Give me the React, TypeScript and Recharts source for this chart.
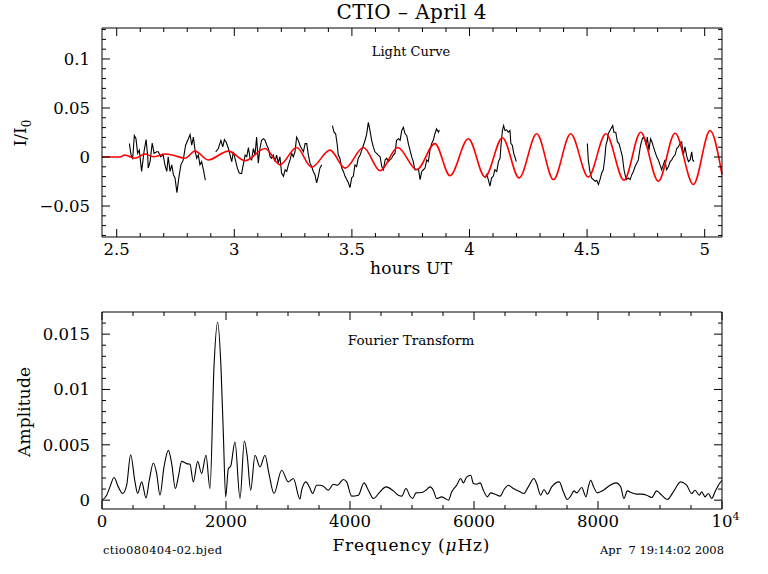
import React from "react";
import { LineChart, Line, XAxis, YAxis } from "recharts";

const FONT = "'DejaVu Serif', 'Liberation Serif', serif";

// light curve pieces: [hours UT, I/I0 x 1000]
const seg1 = [[2.554,13.7],[2.561,2],[2.568,-1.3],[2.575,22],[2.582,18.7],[2.589,3.7],[2.596,7],[2.606,-14.7],[2.616,5.3],[2.625,17.7],[2.632,0.3],[2.634,-11.3],[2.642,-4.7],[2.651,14.3],[2.659,3.7],[2.670,5.3],[2.677,5.3],[2.687,0.3],[2.698,2],[2.705,-8],[2.713,-14.7],[2.719,0.3],[2.727,-14.7],[2.734,-8],[2.741,-18],[2.748,-21.3],[2.756,-36.3],[2.765,-19.7],[2.773,-8],[2.783,-3],[2.793,12],[2.802,17],[2.812,23],[2.819,12],[2.826,20.3],[2.833,7],[2.840,-1.3],[2.847,2],[2.854,-8],[2.861,-4.7],[2.870,-14.7],[2.877,-23.7]];
const seg2 = [[2.921,5.3],[2.932,8.7],[2.943,17],[2.951,10.3],[2.958,17.7],[2.965,15.3],[2.975,8.7],[2.982,2],[2.989,-4.7],[2.996,5.3],[3.003,-1.3],[3.013,-11.3],[3.021,-16.3],[3.031,-17],[3.038,-8],[3.046,2],[3.053,0.3],[3.060,9.7],[3.067,-1.3],[3.074,-3],[3.081,8.7],[3.088,2],[3.095,20.3],[3.102,-6.3],[3.109,8.7],[3.116,17],[3.124,18.7],[3.131,17],[3.138,12],[3.145,8.7],[3.152,0.3],[3.159,-1.3],[3.166,2],[3.173,-4.7],[3.180,2],[3.187,-6.3],[3.194,0.3],[3.201,-16.3],[3.209,-19.7],[3.216,-13],[3.223,-14.7],[3.230,-8],[3.237,-3],[3.244,3.7],[3.251,0.3],[3.258,5.3],[3.265,20.3],[3.272,17],[3.279,12],[3.286,8.7],[3.294,5.3],[3.301,13.7],[3.308,13.7],[3.315,2],[3.322,-6.3],[3.329,-9.7],[3.336,-14.7],[3.343,-18],[3.350,-26.3],[3.357,-19.7],[3.364,-11.3],[3.372,-8]];
const seg3 = [[3.417,32],[3.424,25.3],[3.431,23.7],[3.438,12],[3.442,2],[3.449,-1.3],[3.457,-11.3],[3.464,-14.7],[3.471,-19.7],[3.478,-23],[3.485,-26.3],[3.492,-31.3],[3.499,-21.3],[3.506,-19.7],[3.513,-8],[3.520,-9.7],[3.527,-1.3],[3.535,2],[3.542,7],[3.549,12],[3.556,17],[3.563,23.7],[3.570,35.3],[3.577,27],[3.584,17],[3.591,10.3],[3.598,5.3],[3.605,3.7],[3.612,2],[3.620,0.3],[3.627,-9.7],[3.634,-13],[3.641,-3],[3.648,-1.3],[3.655,-4.7],[3.662,-3],[3.669,-1.3],[3.676,2],[3.683,3.7],[3.690,17],[3.698,18.7],[3.705,17],[3.712,27],[3.719,30.3],[3.726,23.7],[3.733,22],[3.740,13.7],[3.747,7],[3.754,0.3],[3.761,-4.7],[3.768,-13],[3.783,-12.3],[3.790,-23],[3.797,-14.7],[3.804,-13],[3.811,-11.3],[3.818,-3],[3.825,-4.7],[3.832,7],[3.839,13.7],[3.846,17],[3.853,23.7],[3.860,28.7],[3.868,25.3],[3.872,27.7]];
const seg4 = [[4.066,-21.3],[4.073,-18],[4.080,-23],[4.087,-29.7],[4.094,-21.3],[4.101,-19.7],[4.108,-13],[4.116,-14.7],[4.123,-4.7],[4.130,-1.3],[4.134,12],[4.140,27],[4.145,32],[4.151,27],[4.158,27.7],[4.165,25.3],[4.172,27],[4.176,13.7],[4.182,12],[4.188,3.7],[4.193,0.3],[4.199,-4.7]];
const seg5 = [[4.501,13.7],[4.505,-3],[4.512,-14.7],[4.519,-21.3],[4.527,-23],[4.534,-24.7],[4.541,-23.7],[4.548,-28],[4.555,-23],[4.562,-16.3],[4.569,-13],[4.576,0.3],[4.580,12],[4.586,17],[4.590,23.7],[4.597,27],[4.605,30.3],[4.609,32],[4.614,25.3],[4.622,25.3],[4.629,15.3],[4.636,13.7],[4.643,7],[4.650,0.3],[4.657,-13],[4.663,-19.7],[4.668,-23],[4.675,-21.3],[4.683,-23],[4.690,-18],[4.697,-14.7],[4.704,-9.7],[4.711,-6.3],[4.718,-3],[4.725,8.7],[4.729,13.7],[4.735,18.7],[4.739,20.3],[4.746,17],[4.751,12],[4.756,20.3],[4.763,7],[4.770,18.7],[4.776,15.3],[4.782,10.3],[4.789,5.3],[4.796,0.3],[4.803,-3],[4.810,-8],[4.817,-13],[4.824,-8],[4.831,-3],[4.838,-13],[4.846,-9.7],[4.853,-4.7],[4.860,-3],[4.867,0.3],[4.874,2],[4.881,8.7],[4.888,10.3],[4.895,13.7],[4.902,15.3],[4.909,2],[4.916,10.3],[4.924,0.3],[4.931,-4.7],[4.938,-3],[4.945,5.3],[4.949,-3],[4.955,-4.7]];

// fitted model, turning points
const model = [[2.4375,0],[2.514,0],[2.535,2],[2.578,-1.3],[2.620,3],[2.656,0.3],[2.705,3],[2.748,1.3],[2.790,-1.3],[2.833,6],[2.889,-3],[2.975,6],[3.046,-3.7],[3.131,8.7],[3.194,-8],[3.265,9.7],[3.329,-10.3],[3.407,7],[3.471,-11.3],[3.549,9.7],[3.620,-14],[3.695,9.7],[3.776,-13],[3.853,13.7],[3.917,-19],[3.995,18.7],[4.066,-20.3],[4.140,19.7],[4.211,-21.3],[4.286,23.7],[4.357,-23],[4.430,23.7],[4.505,-20.3],[4.580,23.7],[4.657,-23.7],[4.728,25.3],[4.803,-24.7],[4.874,24.3],[4.952,-28],[5.023,27],[5.0736,-18]];

// amplitude spectrum: [frequency µHz, amplitude x 1000]
const fourier = [[0,0],[75,0.45],[129,1.2],[194,2.04],[263,1.2],[333,0.6],[398,1.35],[462,4.1],[532,1.65],[575,0.6],[640,1.65],[710,0.2],[763,1.8],[828,3.36],[882,2.4],[935,0.45],[1000,3],[1070,4.5],[1124,3.3],[1183,1.05],[1231,2.1],[1285,3.5],[1366,3.3],[1419,3.24],[1473,1.65],[1543,3.5],[1607,2.4],[1677,4.05],[1742,1.05],[1806,12],[1865,16.07],[1919,12],[1957,6],[1995,0.3],[2038,2.85],[2075,3.06],[2145,5.25],[2226,0.15],[2296,5.35],[2344,3.9],[2398,0.9],[2468,4.05],[2548,3],[2629,4.05],[2693,2.4],[2774,0.6],[2898,2.7],[3005,1.65],[3086,1.95],[3193,0.1],[3220,0.9],[3290,1.65],[3344,1.2],[3398,0.6],[3462,1.35],[3516,1.35],[3570,1.26],[3651,0.9],[3731,1.44],[3796,1.35],[3893,1.86],[3946,1.65],[4027,0.36],[4135,0.45],[4226,1.56],[4296,0.9],[4377,0.15],[4484,0.75],[4581,1.2],[4699,0.84],[4780,0.45],[4834,0.36],[4904,1.05],[4968,0.36],[5011,0.15],[5065,0.66],[5156,0.69],[5226,0.9],[5291,1.2],[5344,0.9],[5398,0.15],[5479,0.3],[5533,0.15],[5587,0],[5641,0.75],[5721,1.35],[5786,1.95],[5829,1.56],[5883,2.1],[5947,2.25],[5990,1.5],[6044,1.44],[6098,1.56],[6151,0.9],[6216,0.3],[6270,0.66],[6340,0.54],[6420,0.36],[6485,0.96],[6554,1.35],[6635,1.05],[6742,0.75],[6806,0.6],[6876,1.2],[6968,1.95],[7011,1.5],[7075,0.45],[7129,0.96],[7183,0.54],[7253,1.2],[7376,1.65],[7441,0.75],[7505,0.06],[7559,0.36],[7613,0.84],[7656,0.66],[7737,1.14],[7807,0.3],[7844,1.2],[7882,1.8],[7925,1.26],[7989,0.66],[8086,0.9],[8194,1.35],[8290,1.56],[8366,1.2],[8419,0.15],[8473,0.84],[8543,0.66],[8624,0.54],[8704,0.54],[8785,0.45],[8866,0.24],[8946,0.84],[9027,0.45],[9118,0.06],[9215,0.75],[9333,1.65],[9430,1.35],[9511,0.6],[9565,0.9],[9635,0.45],[9672,0.75],[9726,0.3],[9780,0.6],[9834,0.15],[9888,0.75],[9942,1.35],[10000,1.8]];

const hourTicks = [2.5, 3, 3.5, 4, 4.5, 5];
const hourLabels = ["2.5", "3", "3.5", "4", "4.5", "5"];
const fluxTicks = [-0.05, 0, 0.05, 0.1];
const fluxLabels = ["\u22120.05", "0", "0.05", "0.1"];
const freqTicks = [0, 2000, 4000, 6000, 8000, 10000];
const freqLabels = ["0", "2000", "4000", "6000", "8000", "10^4"];
const ampTicks = [0, 0.005, 0.01, 0.015];
const ampLabels = ["0", "0.005", "0.01", "0.015"];

const hourDomain = [2.4375, 5.0736];
const fluxDomain = [-0.0816, 0.1316];
const freqDomain = [0, 10000];
const ampDomain = [-0.0008, 0.017];

// all tick positions (minor + major)
const steps = (lo: number, hi: number, step: number) => {
  const out: number[] = [];
  for (let i = 0; lo + i * step <= hi + 1e-9; i++) out.push(+(lo + i * step).toFixed(6));
  return out;
};
const hourMinor = steps(2.5, 5.0, 0.1);
const fluxMinor = steps(-0.08, 0.13, 0.01);
const freqMinor = steps(0, 10000, 500);
const ampMinor = steps(0, 0.016, 0.001);

const toLc = (s: number[][]) => s.map(([t, f]) => ({ t, f: f / 1000 }));
const toFt = (s: number[][]) => s.map(([nu, a]) => ({ nu, a: a / 1000 }));

const segments = [seg1, seg2, seg3, seg4, seg5].map(toLc);
const modelPts = toLc(model);
const ftPts = toFt(fourier);

const TICK_FS = 16.5;

type Side = "bottom" | "top" | "left" | "right";

const tickLabel = (side: Side, x: number, y: number, label: string) => {
  if (side === "left") {
    return (
      <text x={x - 12} y={y + 6} textAnchor="end" fontSize={TICK_FS} fontFamily={FONT} fill="#000">
        {label}
      </text>
    );
  }
  if (label.includes("^")) {
    const [base, exp] = label.split("^");
    return (
      <text x={x - 10.5} y={y + 18} textAnchor="start" fontSize={TICK_FS} fontFamily={FONT} fill="#000">
        {base}
        <tspan dy={-7} fontSize={11}>{exp}</tspan>
      </text>
    );
  }
  return (
    <text x={x} y={y + 18} textAnchor="middle" fontSize={TICK_FS} fontFamily={FONT} fill="#000">
      {label}
    </text>
  );
};

// inward SM-style tick: long on labelled values, short otherwise
const makeTick = (side: Side, majors: number[], labels?: string[]) => (props: any) => {
  const x = Number(props.x);
  const y = Number(props.y);
  const idx = majors.findIndex((m) => Math.abs(m - props.payload.value) < 1e-7);
  const len = idx >= 0 ? 8 : 4;
  let r = { x: x - 0.5, y: y - len, w: 1, h: len };
  if (side === "top") r = { x: x - 0.5, y, w: 1, h: len };
  if (side === "left") r = { x, y: y - 0.5, w: len, h: 1 };
  if (side === "right") r = { x: x - len, y: y - 0.5, w: len, h: 1 };
  return (
    <g>
      <rect x={r.x} y={r.y} width={r.w} height={r.h} fill="#000" />
      {labels && idx >= 0 ? tickLabel(side, x, y, labels[idx]) : null}
    </g>
  );
};

const base = {
  type: "number" as const,
  interval: 0 as const,
  stroke: "#000",
  tickLine: false,
  tickSize: 0,
  tickMargin: 0,
  axisLine: { stroke: "#000", strokeWidth: 1 },
};
const THIN = 0.001;

type FrameOpts = {
  xKey: string;
  yKey: string;
  anchor: any[];
  xDomain: number[];
  yDomain: number[];
  xMajor: number[];
  xAll: number[];
  xLabels: string[];
  xHeight: number;
  yMajor: number[];
  yAll: number[];
  yLabels: string[];
};

const frame = (o: FrameOpts) => [
  <XAxis key="b" {...base} xAxisId="b" dataKey={o.xKey} orientation="bottom" height={o.xHeight} domain={o.xDomain} ticks={o.xAll} tick={makeTick("bottom", o.xMajor, o.xLabels)} />,
  <XAxis key="t" {...base} xAxisId="t" dataKey={o.xKey} orientation="top" height={THIN} domain={o.xDomain} ticks={o.xAll} tick={makeTick("top", o.xMajor)} />,
  <YAxis key="l" {...base} yAxisId="l" orientation="left" width={102} domain={o.yDomain} ticks={o.yAll} tick={makeTick("left", o.yMajor, o.yLabels)} />,
  <YAxis key="r" {...base} yAxisId="r" orientation="right" width={THIN} domain={o.yDomain} ticks={o.yAll} tick={makeTick("right", o.yMajor)} />,
  // invisible series tying the top/right frame axes to the chart
  <Line key="h" data={o.anchor} xAxisId="t" yAxisId="r" dataKey={o.yKey} stroke="none" dot={false} activeDot={false} isAnimationActive={false} />,
];

const App: React.FC = () => {
  return (
    <div style={{ position: "absolute", left: 0, top: 0, width: 768, height: 574, background: "#fff", fontFamily: FONT }}>
      <div style={{ position: "absolute", left: 0, top: 0 }}>
        <LineChart width={768} height={290} margin={{ top: 28, right: 46, bottom: 0, left: 0 }}>
          {frame({
            xKey: "t", yKey: "f", anchor: modelPts,
            xDomain: hourDomain, yDomain: fluxDomain,
            xMajor: hourTicks, xAll: hourMinor, xLabels: hourLabels, xHeight: 53,
            yMajor: fluxTicks, yAll: fluxMinor, yLabels: fluxLabels,
          })}
          {segments.map((s, i) => (
            <Line key={`seg-${i}`} data={s} xAxisId="b" yAxisId="l" dataKey="f" type="linear" stroke="#000" strokeWidth={1.1} dot={false} isAnimationActive={false} />
          ))}
          <Line data={modelPts} xAxisId="b" yAxisId="l" dataKey="f" type="monotone" stroke="#ff0000" strokeWidth={1.6} dot={false} isAnimationActive={false} />
        </LineChart>
      </div>
      <div style={{ position: "absolute", left: 0, top: 290 }}>
        <LineChart width={768} height={284} margin={{ top: 22, right: 46, bottom: 0, left: 0 }}>
          {frame({
            xKey: "nu", yKey: "a", anchor: ftPts,
            xDomain: freqDomain, yDomain: ampDomain,
            xMajor: freqTicks, xAll: freqMinor, xLabels: freqLabels, xHeight: 65,
            yMajor: ampTicks, yAll: ampMinor, yLabels: ampLabels,
          })}
          <Line data={ftPts} xAxisId="b" yAxisId="l" dataKey="a" type="monotone" stroke="#000" strokeWidth={1.1} dot={false} isAnimationActive={false} />
        </LineChart>
      </div>
      <svg width={768} height={574} style={{ position: "absolute", left: 0, top: 0, pointerEvents: "none" }} fontFamily={FONT} fill="#000">
        <text x={411.5} y={19} textAnchor="middle" fontSize={20} textLength={150}>CTIO – April 4</text>
        <text x={411} y={56} textAnchor="middle" fontSize={13}>Light Curve</text>
        <text x={411} y={274} textAnchor="middle" fontSize={17} textLength={82}>hours UT</text>
        <text transform="translate(26,133) rotate(-90)" textAnchor="middle" fontSize={17}>
          I/I<tspan dy={5} fontSize={12}>0</tspan>
        </text>
        <text x={411} y={345} textAnchor="middle" fontSize={13.5}>Fourier Transform</text>
        <text transform="translate(30,412) rotate(-90)" textAnchor="middle" fontSize={17} textLength={90}>Amplitude</text>
        <text x={411} y={551} textAnchor="middle" fontSize={17} textLength={157}>
          Frequency (<tspan fontStyle="italic">μ</tspan>Hz)
        </text>
        <text x={103} y={554} fontSize={11.5} textLength={119}>ctio080404-02.bjed</text>
        <text x={724} y={554} textAnchor="end" fontSize={11.5} style={{ whiteSpace: "pre" }}>Apr  7 19:14:02 2008</text>
      </svg>
    </div>
  );
};

export default App;
